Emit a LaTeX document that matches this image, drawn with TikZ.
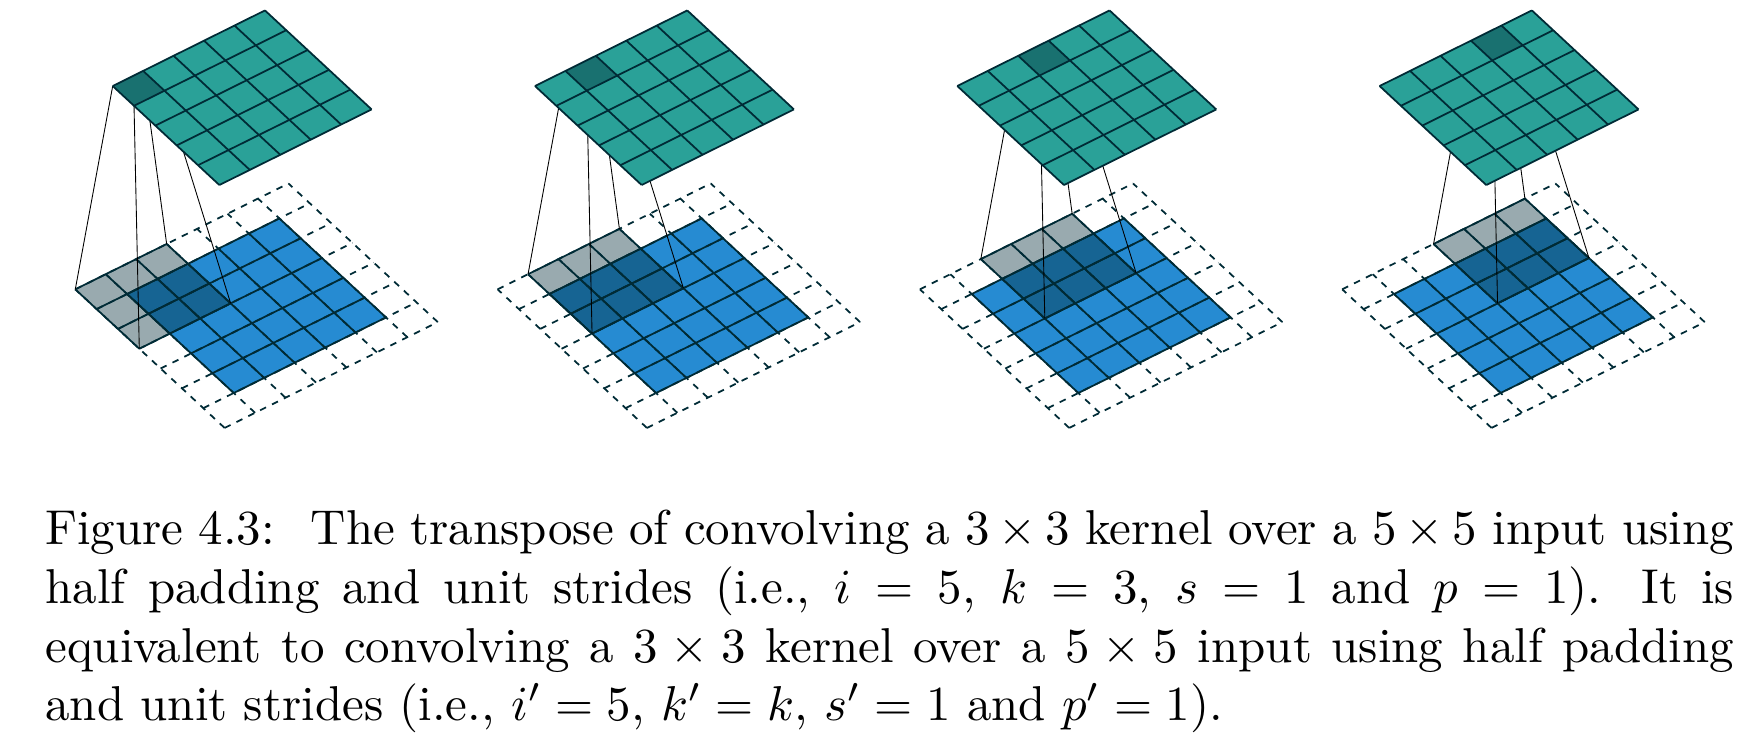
\documentclass[tikz,border=0pt]{standalone}
\definecolor{basedark}{HTML}{002B36}
\definecolor{solblue}{HTML}{268BD2}
\definecolor{solcyan}{HTML}{2AA198}
\tikzset{
  gridline/.style={draw=basedark,line width=0.36pt},
  dashline/.style={draw=basedark,line width=0.36pt,dash pattern=on 1.35pt off 1.35pt},
  linkline/.style={draw=black,line width=0.18pt},
  shade/.style={fill=basedark,fill opacity=0.4},
  bottomsys/.style={shift={#1},x={(6.221pt,3.089pt)},y={(4.358pt,-4.045pt)}}
}
\begin{document}
\begin{tikzpicture}[x=0.2043pt,y=-0.2043pt]
\useasboundingbox (0,0) rectangle (1745,748);
\foreach \k in {0,1,2,3}{
  \pgfmathsetmacro{\bx}{75.3+422.3*\k}
  \pgfmathsetmacro{\tx}{112.7+422.3*\k}
  \pgfmathtruncatemacro{\kk}{\k+3}
  \pgfmathtruncatemacro{\ko}{\k+1}
  % input layer
  \begin{scope}[bottomsys={(\bx,289.3)}]
    \fill[solblue] (1,1) -- (6,1) -- (6,6) -- (1,6) -- cycle;
    \foreach \i in {1,...,6}{
      \draw[gridline] (1,\i) -- (6,\i);
      \draw[gridline] (\i,6) -- (\i,1);
    }
    \foreach \i in {0,...,7}{
      \draw[dashline] (0,\i) -- (7,\i);
      \draw[dashline] (\i,7) -- (\i,0);
    }
    \fill[shade] (\k,0) -- (\kk,0) -- (\kk,3) -- (\k,3) -- cycle;
    \foreach \i in {0,...,3}{
      \draw[gridline] (\k,\i) -- (\kk,\i);
      \draw[gridline] ({\k+\i},3) -- ({\k+\i},0);
    }
    \coordinate (kl\k) at (\k,0);
    \coordinate (kt\k) at (\kk,0);
    \coordinate (kb\k) at (\k,3);
    \coordinate (kr\k) at (\kk,3);
  \end{scope}
  % output cell corners
  \begin{scope}[bottomsys={(\tx,86)}]
    \coordinate (ol\k) at (\k,0);
    \coordinate (ot\k) at (\ko,0);
    \coordinate (ob\k) at (\k,1);
    \coordinate (or\k) at (\ko,1);
  \end{scope}
  % connectors
  \draw[linkline] (kl\k) -- (ol\k);
  \draw[linkline] (kt\k) -- (ot\k);
  \draw[linkline] (kb\k) -- (ob\k);
  \draw[linkline] (kr\k) -- (or\k);
  % output layer
  \begin{scope}[bottomsys={(\tx,86)}]
    \fill[solcyan] (0,0) -- (5,0) -- (5,5) -- (0,5) -- cycle;
    \fill[shade] (ol\k) -- (ot\k) -- (or\k) -- (ob\k) -- cycle;
    \foreach \i in {0,...,5}{
      \draw[gridline] (0,\i) -- (5,\i);
      \draw[gridline] (\i,5) -- (\i,0);
    }
  \end{scope}
}
\node[anchor=north west,inner sep=0pt,outer sep=0pt,text width=345pt,align=justify] (caption) at (45.4,510) {%
Figure 4.3:\hspace{0.3em} The transpose of convolving a $3\times3$ kernel over a $5\times5$ input using\linebreak
half padding and unit strides (i.e., $i=5$, $k=3$, $s=1$ and $p=1$). It is\linebreak
equivalent to convolving a $3\times3$ kernel over a $5\times5$ input using half padding\linebreak
and unit strides (i.e., $i'=5$, $k'=k$, $s'=1$ and $p'=1$).};
\end{tikzpicture}
\end{document}
